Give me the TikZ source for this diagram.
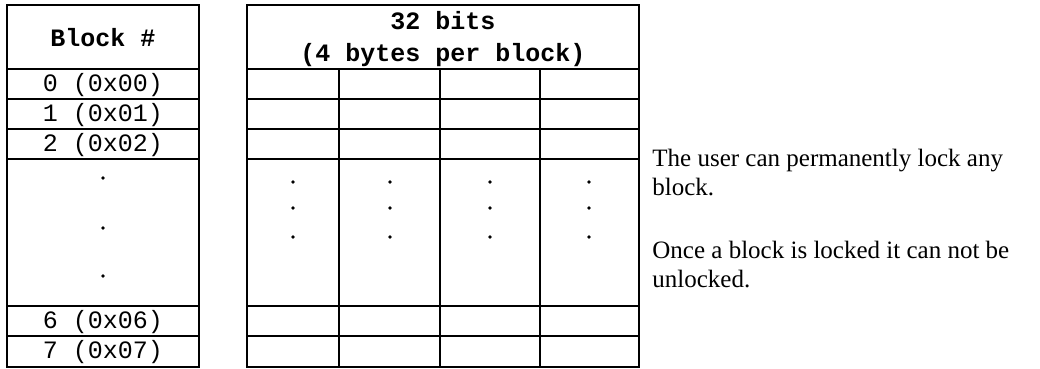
\documentclass[tikz,border=0pt]{standalone}
\usepackage{fontspec}
\setmainfont{Liberation Serif}
\setmonofont{Liberation Mono}
\tikzset{
    rule/.style={line width=0.6pt},
    entry/.style={font=\ttfamily\fontsize{12}{14}\selectfont, inner sep=0pt},
    headentry/.style={font=\ttfamily\bfseries\fontsize{12}{15.4}\selectfont, align=center, inner sep=0pt},
    note/.style={font=\fontsize{12}{13.9}\selectfont, align=left, anchor=base west, inner sep=0pt}
}
\begin{document}
\begin{tikzpicture}[x=0.48pt,y=-0.48pt]
    \useasboundingbox (0,0) rectangle (1040,368);

    %block numbers
    \draw[rule] (7,5) rectangle (199,367);
    \foreach \y in {69,99,129,159,306,336}
    {
        \draw[rule] (7,\y) -- (199,\y);
    }
    \node[headentry] (blockhead) at (103,38) {Block \#};
    \foreach \n/\y in {0/85,1/115,2/145,6/322,7/352}
    {
        \node[entry] (blk\n) at (103,\y) {\n\ (0x0\n)};
    }
    \foreach \y in {178,228,276}
    {
        \fill (103,\y) circle (0.9pt);
    }

    %32 bit words
    \draw[rule] (247,5) rectangle (639,367);
    \foreach \y in {69,99,129,159,306,336}
    {
        \draw[rule] (247,\y) -- (639,\y);
    }
    \foreach \x in {339,440,540}
    {
        \draw[rule] (\x,69) -- (\x,367);
    }
    \node[headentry] (wordhead) at (443,39) {32 bits\\(4 bytes per block)};
    \foreach \x in {293,390,490,589}
        \foreach \y in {182,208,237}
        {
            \fill (\x,\y) circle (0.9pt);
        }

    %lock notes
    \node[note] (lockany) at (652,195) {The user can permanently lock any\\block.};
    \node[note] (lockonce) at (652,287) {Once a block is locked it can not be\\unlocked.};
\end{tikzpicture}
\end{document}
